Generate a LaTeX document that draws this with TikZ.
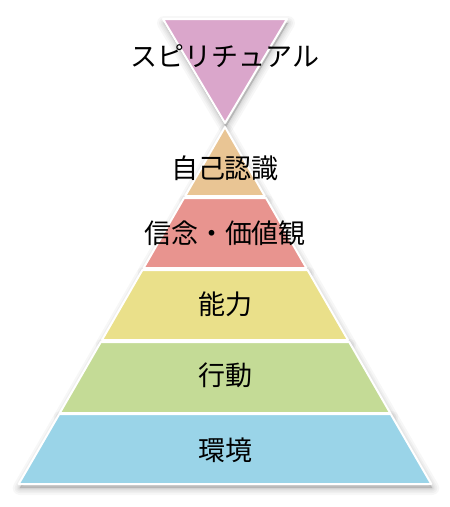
\documentclass[tikz,border=0pt]{standalone}
\usepackage{fontspec}
\setmainfont{Noto Sans CJK JP}
\begin{document}
\begin{tikzpicture}[x=1pt,y=-1pt,
  layer/.style={draw=white, line width=2pt, line join=round},
  lbl/.style={font=\fontsize{27}{31}\selectfont, text=black, inner sep=0pt},
  shad/.style={fill=black, draw=black, fill opacity=0.03, draw opacity=0.03, line join=round}]
\definecolor{cpink}{HTML}{DAA6CB}
\definecolor{ctan}{HTML}{E9C594}
\definecolor{cred}{HTML}{E8948F}
\definecolor{cyel}{HTML}{EAE08A}
\definecolor{cgrn}{HTML}{C4DB96}
\definecolor{cblu}{HTML}{9AD4E8}
\useasboundingbox[fill=white] (0,0) rectangle (450,507);
% shadows
\foreach \w in {14,10,7,4,2}{
  \path[shad, line width=\w pt, shift={(1,4)}] (163,19) -- (287,19) -- (225,123) -- cycle;
  \path[shad, line width=\w pt, shift={(1,4)}] (225,127) -- (264.8,196) -- (185.2,196) -- cycle;
  \path[shad, line width=\w pt, shift={(1,4)}] (184,198) -- (266,198) -- (306.4,268) -- (143.6,268) -- cycle;
  \path[shad, line width=\w pt, shift={(1,4)}] (142.4,270) -- (307.6,270) -- (348,340) -- (102,340) -- cycle;
  \path[shad, line width=\w pt, shift={(1,4)}] (100.8,342) -- (349.2,342) -- (390.2,413) -- (59.8,413) -- cycle;
  \path[shad, line width=\w pt, shift={(1,4)}] (59.3,414) -- (390.7,414) -- (431.3,484) -- (18.7,484) -- cycle;
}
% layers
\path[layer, fill=cpink] (163,19) -- (287,19) -- (225,123) -- cycle;
\path[layer, fill=ctan] (225,127) -- (264.8,196) -- (185.2,196) -- cycle;
\path[layer, fill=cred] (184,198) -- (266,198) -- (306.4,268) -- (143.6,268) -- cycle;
\path[layer, fill=cyel] (142.4,270) -- (307.6,270) -- (348,340) -- (102,340) -- cycle;
\path[layer, fill=cgrn] (100.8,342) -- (349.2,342) -- (390.2,413) -- (59.8,413) -- cycle;
\path[layer, fill=cblu] (59.3,414) -- (390.7,414) -- (431.3,484) -- (18.7,484) -- cycle;
% labels
\node[lbl] (spirit) at (225,56) {スピリチュアル};
\node[lbl] (self) at (225,168) {自己認識};
\node[lbl] (belief) at (225,233) {信念・価値観};
\node[lbl] (abil) at (225,304) {能力};
\node[lbl] (act) at (225,375) {行動};
\node[lbl] (env) at (225,450) {環境};
\end{tikzpicture}
\end{document}
